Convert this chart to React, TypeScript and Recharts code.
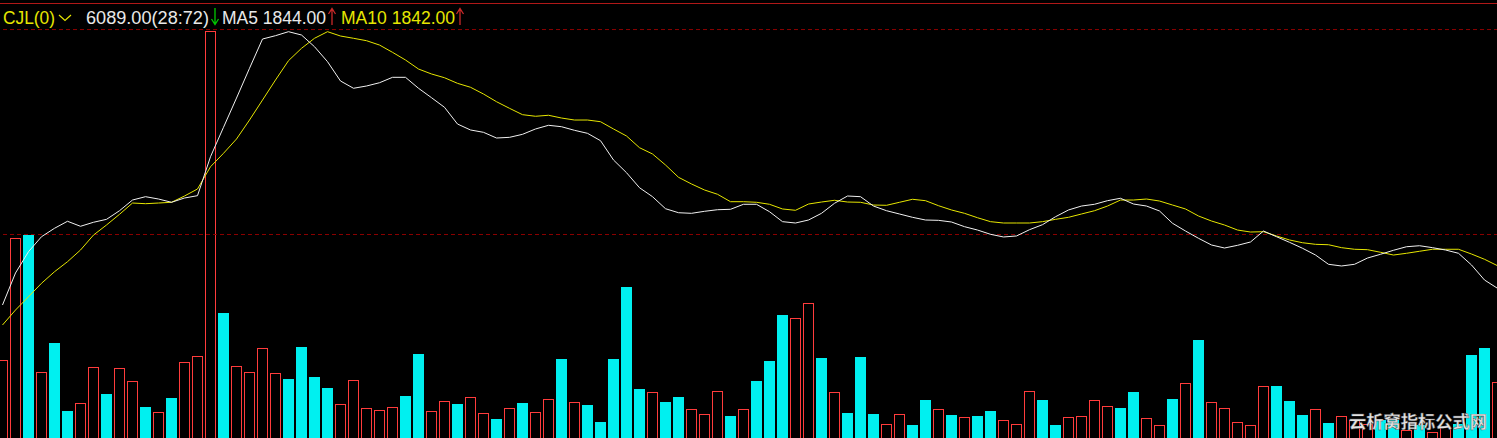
import { ComposedChart, XAxis, YAxis, Bar, Line, ReferenceLine } from "recharts";

// volume per bar
const volumes = [
  1163, 2988, 3038, 983, 1421, 404, 519, 1058, 658, 1043,
  848, 464, 385, 599, 1133, 1222, 6089, 1870, 1073, 983,
  1342, 968, 883, 1362, 913, 748, 504, 863, 444, 414,
  459, 628, 1257, 400, 549, 509, 609, 370, 284, 444,
  524, 385, 579, 1182, 534, 494, 239, 1182, 2259, 733,
  684, 539, 613, 429, 355, 699, 329, 429, 853, 1152,
  1840, 1796, 2016, 1197, 684, 374, 1212, 359, 205, 355,
  195, 569, 429, 344, 310, 329, 404, 265, 205, 699,
  569, 195, 310, 325, 564, 474, 449, 688, 295, 190,
  584, 818, 1466, 534, 444, 235, 190, 774, 778, 554,
  344, 429, 224, 325, 265, 209, 269, 269, 125, 195,
  85, 169, 209, 1242, 1347, 833,
];

// R = up day (hollow red), C = down day (filled cyan)
const upDown =
  "RRCRCCRRCR" + "RCRCRRRCRR" + "RRCCCCRRRR" + "RCCRRCRRCR" + "CRRCRCCCCC" +
  "RCCRRRCRCC" + "CRRCRCCCRR" + "CCRCRCCRRR" + "CCRRRRCCRR" + "CRCRRRRRCC" +
  "CRCRRRCCRC" + "RRCCCR";

const ma5 = [
  1990, 2469, 2788, 3012, 3138, 3243, 3168, 3228, 3272, 3401,
  3561, 3611, 3576, 3527, 3591, 3626, 4209, 4649, 5087, 5532,
  5970, 6020, 6080, 6030, 5855, 5631, 5342, 5233, 5267, 5316,
  5397, 5397, 5233, 5092, 4948, 4698, 4609, 4574, 4489, 4499,
  4544, 4624, 4679, 4658, 4604, 4559, 4449, 4160, 3970, 3745,
  3611, 3431, 3371, 3362, 3392, 3416, 3422, 3497, 3497, 3386,
  3237, 3217, 3262, 3362, 3512, 3621, 3611, 3471, 3401, 3352,
  3302, 3262, 3257, 3232, 3162, 3112, 3048, 3008, 3023, 3117,
  3192, 3311, 3412, 3471, 3497, 3551, 3587, 3501, 3471, 3397,
  3213, 3097, 2988, 2888, 2843, 2883, 2933, 3097, 3012, 2928,
  2839, 2738, 2599, 2574, 2599, 2693, 2749, 2809, 2862, 2877,
  2848, 2813, 2764, 2589, 2364, 2240,
];

const ma10 = [
  1691, 1915, 2114, 2315, 2488, 2638, 2813, 3037, 3187, 3347,
  3516, 3506, 3516, 3527, 3621, 3726, 4059, 4260, 4474, 4758,
  5057, 5357, 5646, 5831, 5981, 6080, 6015, 5981, 5945, 5880,
  5771, 5656, 5521, 5447, 5391, 5307, 5248, 5147, 5032, 4933,
  4838, 4814, 4829, 4788, 4758, 4758, 4733, 4624, 4519, 4344,
  4250, 4085, 3901, 3801, 3711, 3647, 3536, 3536, 3527, 3497,
  3427, 3407, 3501, 3531, 3557, 3531, 3527, 3486, 3482, 3527,
  3572, 3551, 3476, 3412, 3362, 3296, 3237, 3217, 3217, 3217,
  3237, 3272, 3302, 3352, 3401, 3471, 3561, 3561, 3576, 3546,
  3486, 3427, 3322, 3247, 3187, 3112, 3082, 3087, 3023, 2963,
  2922, 2898, 2892, 2848, 2824, 2818, 2779, 2738, 2764, 2794,
  2824, 2824, 2824, 2753, 2674, 2578,
];

const Y_MAX = 6120;
const TOP_LINE = 6112;
const MID_LINE = 3045;

const RED = "#ff3c3c";
const CYAN = "#00f0f0";
const YELLOW = "#e6e600";

const data = volumes.map((v, i) => ({
  i,
  vol: v,
  up: upDown[i] === "R",
  ma5: ma5[i],
  ma10: ma10[i],
}));

const VolBar = (props: any) => {
  const { x, y, width, height, payload } = props;
  const top = Math.round(y);
  if (payload.up) {
    return (
      <rect x={x + 0.5} y={top + 0.5} width={width - 1} height={height + 2}
        fill="none" stroke={RED} strokeWidth={1} />
    );
  }
  return <rect x={x} y={top} width={width} height={height + 2} fill={CYAN} />;
};

const Header = () => (
  <svg width={1497} height={30} style={{ position: "absolute", left: 0, top: 0 }}>
    <line x1={0} x2={1497} y1={3.5} y2={3.5} stroke="#b01818" strokeWidth={1} />
    <g fontFamily="'Liberation Sans', Arial, sans-serif" fontSize={18}>
      <text x={3} y={24} fill={YELLOW} textLength={52} lengthAdjust="spacingAndGlyphs">CJL(0)</text>
      <polyline points="59,15 65,20.5 71,15" fill="none" stroke={YELLOW} strokeWidth={1.2} />
      <text x={86} y={24} fill="#e8e8e8" textLength={123} lengthAdjust="spacingAndGlyphs">6089.00(28:72)</text>
      <text x={222} y={24} fill="#e8e8e8" textLength={104} lengthAdjust="spacingAndGlyphs">MA5 1844.00</text>
      <text x={341} y={24} fill={YELLOW} textLength={114} lengthAdjust="spacingAndGlyphs">MA10 1842.00</text>
    </g>
    <g strokeWidth={1.3} fill="none">
      <path d="M215,8 V24 M211.5,19 L215,24.5 L218.5,19" stroke="#00c800" />
      <path d="M332,25 V9 M328.5,14 L332,8.5 L335.5,14" stroke="#c82828" />
      <path d="M460,25 V9 M456.5,14 L460,8.5 L463.5,14" stroke="#c82828" />
    </g>
  </svg>
);

const Watermark = () => (
  <svg width={150} height={26} style={{ position: "absolute", left: 1345, top: 408 }}>
    <text x={4} y={20} fontFamily="'Noto Sans CJK SC', sans-serif" fontSize={17}
      fontWeight={700} fill="#e4e4e4" stroke="#555" strokeWidth={0.4}
      textLength={138} lengthAdjust="spacingAndGlyphs">云析窝指标公式网</text>
  </svg>
);

export default function App() {
  return (
    <div style={{ position: "absolute", left: 0, top: 0, width: 1497, height: 438, overflow: "hidden", background: "#000" }}>
      <div style={{ position: "absolute", left: -4, top: 0 }}>
        <ComposedChart width={1508} height={438} data={data}
          margin={{ top: 29, right: 0, bottom: 0, left: 0 }}>
          <XAxis dataKey="i" hide />
          <YAxis hide domain={[0, Y_MAX]} allowDataOverflow />
          <ReferenceLine y={TOP_LINE} stroke="#8a0000" strokeDasharray="4 3" />
          <ReferenceLine y={MID_LINE} stroke="#8a0000" strokeDasharray="4 3" />
          <Bar dataKey="vol" barSize={11} shape={VolBar} isAnimationActive={false} />
          <Line type="linear" dataKey="ma10" stroke={YELLOW} strokeWidth={1} dot={false} activeDot={false} isAnimationActive={false} />
          <Line type="linear" dataKey="ma5" stroke="#f0f0f0" strokeWidth={1} dot={false} activeDot={false} isAnimationActive={false} />
        </ComposedChart>
      </div>
      <Header />
      <Watermark />
    </div>
  );
}
